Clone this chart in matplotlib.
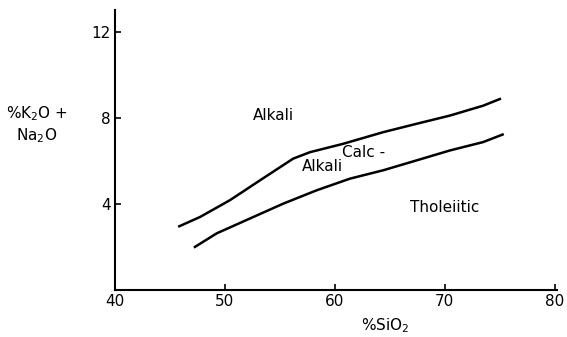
import numpy as np
import matplotlib.pyplot as plt

plt.rcParams['font.family'] = ['DejaVu Sans']

# upper boundary (Alkali / Calc-Alkali)
upper_x = [45.85, 47.73, 50.45, 53.18, 56.2, 57.73, 60.75, 64.39, 67.43, 70.45, 73.48, 75.0]
upper_y = [2.96, 3.39, 4.17, 5.09, 6.10, 6.40, 6.79, 7.33, 7.72, 8.10, 8.56, 8.87]

# lower boundary (Calc-Alkali / Tholeiitic)
lower_x = [47.27, 49.25, 52.27, 55.3, 58.34, 61.36, 64.39, 67.43, 70.45, 73.48, 75.25]
lower_y = [2.00, 2.63, 3.32, 4.01, 4.63, 5.17, 5.56, 6.02, 6.48, 6.87, 7.22]

x_ticks = [40, 50, 60, 70, 80]
y_ticks = [4, 8, 12]

fig = plt.figure(figsize=(5.67, 3.37), dpi=100)
ax = fig.add_axes([0.2028, 0.1395, 0.7796, 0.8305])

ax.plot(upper_x, upper_y, color='black', lw=1.8)
ax.plot(lower_x, lower_y, color='black', lw=1.8)

ax.text(54.4, 8.1, 'Alkali', fontsize=11, ha='center', va='center')
ax.text(60.6, 6.4, 'Calc -', fontsize=11, ha='left', va='center')
ax.text(57.0, 5.74, 'Alkali', fontsize=11, ha='left', va='center')
ax.text(66.8, 3.83, 'Tholeiitic', fontsize=11, ha='left', va='center')

ax.set_xlim(40, 80.2)
ax.set_ylim(0, 13)
ax.set_xticks(x_ticks)
ax.set_yticks(y_ticks)
ax.tick_params(axis='both', direction='in', length=4, width=1.2, labelsize=11, pad=3)
ax.spines['top'].set_visible(False)
ax.spines['right'].set_visible(False)
ax.spines['left'].set_linewidth(1.5)
ax.spines['bottom'].set_linewidth(1.5)

fig.text(0.065, 0.63, '%K$_2$O +\nNa$_2$O', fontsize=11, ha='center', va='center',
         linespacing=1.3)
fig.text(0.68, 0.035, '%SiO$_2$', fontsize=11, ha='center', va='center')

fig.savefig('out.png', dpi=100)
